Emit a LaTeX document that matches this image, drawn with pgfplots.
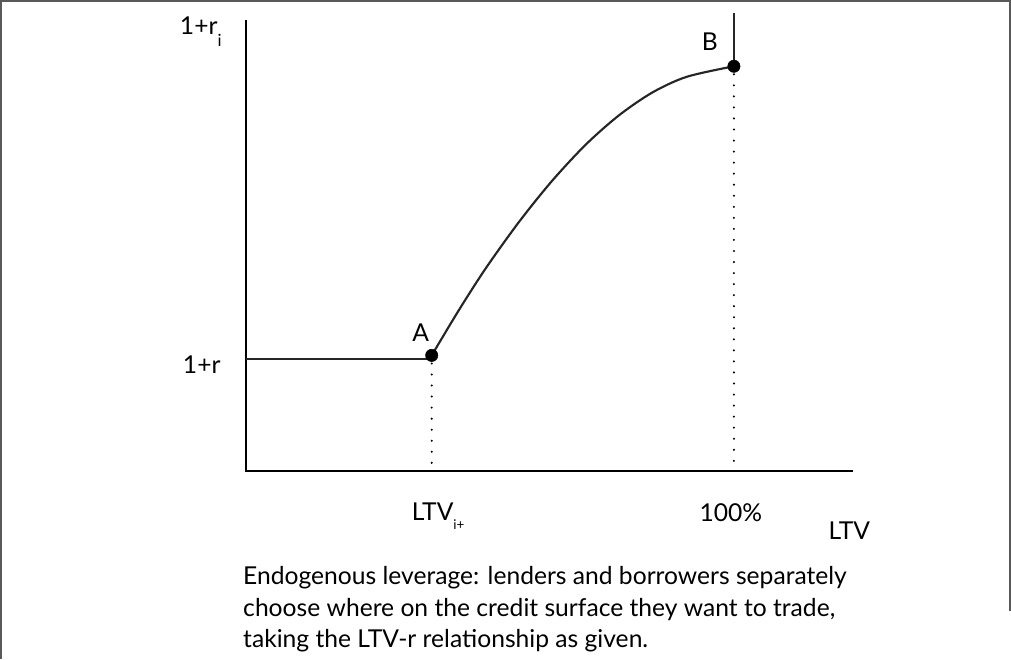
\documentclass[border=0pt]{standalone}
\usepackage{fontspec}
\setmainfont{Lato}
\usepackage{pgfplots}
\pgfplotsset{compat=1.18}
\newcommand\mainsize{\fontsize{18.4pt}{22pt}\selectfont}
\newcommand\subsize{\fontsize{12.5pt}{12.5pt}\selectfont}
\begin{document}
\begin{tikzpicture}
\begin{axis}[
  width=758.25pt, height=494.25pt, scale only axis,
  xmin=0, xmax=1011, ymin=0, ymax=659,
  hide axis, clip=false,
]
% frame
\addplot[color=black!65, line width=1.5pt] coordinates {(4,0) (4,655) (1009,655) (1009,47)};
% axes
\addplot[black, line width=1.9pt] coordinates {(248,636) (248,187) (853,187)};
% flat rate segment
\addplot[black!85, line width=1.6pt] coordinates {(248,298) (433,298)};
% credit surface curve
\addplot[black!85, line width=1.6pt, smooth] coordinates {
 (433,302) (460,347) (487,389) (520,435) (553,476) (587,512.5)
 (620,541.5) (653,564) (687,579.5) (734,590)};
% vertical beyond B
\addplot[black!85, line width=1.6pt] coordinates {(734,590) (734,643)};
% dotted drop lines
\addplot[black, line width=1.7pt, line cap=round, dash pattern=on 0pt off 8.25pt] coordinates {(433,294) (433,187)};
\addplot[black, line width=1.7pt, line cap=round, dash pattern=on 0pt off 8.25pt] coordinates {(734,582) (734,187)};
% points A and B
\addplot[only marks, mark=*, mark size=4.6pt, black] coordinates {(433,302) (734,590)};
% labels
\node[anchor=base west, inner sep=0pt] at (axis cs:182,622) {\mainsize 1+r\raisebox{-9pt}{\subsize i}};
\node[anchor=base west, inner sep=0pt] at (axis cs:185,284) {\mainsize 1+r};
\node[anchor=base, inner sep=0pt] at (axis cs:422,316) {\mainsize A};
\node[anchor=base, inner sep=0pt] at (axis cs:710,606) {\mainsize B};
\node[anchor=base west, inner sep=0pt] at (axis cs:413,138) {\mainsize LTV\raisebox{-7pt}{\fontsize{10pt}{10pt}\selectfont i+}};
\node[anchor=base, inner sep=0pt] at (axis cs:731,137) {\mainsize 100\%};
\node[anchor=base west, inner sep=0pt] at (axis cs:828,119) {\mainsize LTV};
\node[anchor=base west, inner sep=0pt] at (axis cs:245,74) {\mainsize Endogenous leverage: lenders and borrowers separately};
\node[anchor=base west, inner sep=0pt] at (axis cs:245,42) {\mainsize choose where on the credit surface they want to trade,};
\node[anchor=base west, inner sep=0pt] at (axis cs:245,11) {\mainsize taking the LTV-r relationship as given.};
\end{axis}
\end{tikzpicture}
\end{document}
